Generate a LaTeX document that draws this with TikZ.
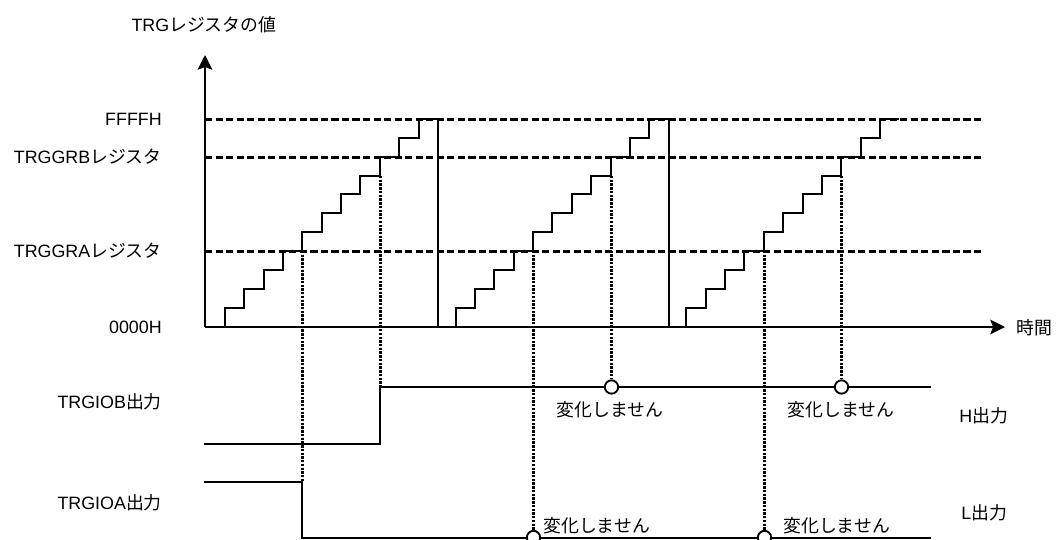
\documentclass[tikz,border=0pt]{standalone}
\usepackage{fontspec}
\setmainfont{Liberation Sans}
\newfontfamily\cjk{Noto Sans CJK JP}
\usetikzlibrary{arrows.meta}
\begin{document}
\begin{tikzpicture}[x=0.75pt,y=-0.75pt,
  solidline/.style={line width=1.5pt},
  dashline/.style={line width=2.25pt, dash pattern=on 5.4pt off 2.5pt},
  dotline/.style={line width=2.25pt, dash pattern=on 1.8pt off 1pt},
  lbl/.style={inner sep=0pt, font=\fontsize{13.4pt}{15pt}\selectfont},
  marker/.style={circle, draw, fill=white, line width=1.4pt, minimum size=10pt, inner sep=0pt},
  axisarrow/.style={line width=1.5pt, -{Stealth[length=11pt,width=11pt,inset=2pt]}},
]
\useasboundingbox (0,0) rectangle (1056,539);
\clip (0,0) rectangle (1056,539);

% levels
\def\yz{327}
\def\yA{251}
\def\yB{157}
\def\yF{119}

% labels
\node[lbl] (title) at (204,25) {TRG{\cjk レジスタの値}};
\node[lbl,anchor=east] (lF) at (162,\yF) {FFFFH};
\node[lbl,anchor=east] (lB) at (162,\yB) {TRGGRB{\cjk レジスタ}};
\node[lbl,anchor=east] (lA) at (162,\yA) {TRGGRA{\cjk レジスタ}};
\node[lbl,anchor=east] (lZ) at (162,\yz) {0000H};
\node[lbl,anchor=east] (lIOB) at (162,401.7) {TRGIOB{\cjk 出力}};
\node[lbl,anchor=east] (lIOA) at (162,502.7) {TRGIOA{\cjk 出力}};
\node[lbl,anchor=west] (ltime) at (1016,328) {\cjk 時間};
\node[lbl,anchor=west] (lH) at (959,416) {H{\cjk 出力}};
\node[lbl,anchor=west] (lL) at (961,513) {L{\cjk 出力}};

% dashed compare levels
\coordinate (dF0) at (205,119.5); \coordinate (dF1) at (983,119.5);
\coordinate (dB0) at (205,157.5); \coordinate (dB1) at (983,157.5);
\coordinate (dA0) at (205,251.5); \coordinate (dA1) at (983,251.5);
\draw[dashline] (dF0) -- (dF1);
\draw[dashline] (dB0) -- (dB1);
\draw[dashline] (dA0) -- (dA1);

% staircases
\foreach \n in {0,1,2} {
  \pgfmathsetmacro\off{\n*230.7}
  \draw[solidline, line join=miter] (206+\off,\yz)
    foreach \k in {1,...,11} { -| ({round(225+\off+\k*19.35-19.35)}, {round(326.7-\k*18.9)}) }
    -- ({round(437.85+\off)},\yF);
}
\coordinate (r0) at (438,\yF); \coordinate (r0b) at (438,\yz);
\coordinate (r1) at (669,\yF); \coordinate (r1b) at (669,\yz);
\draw[solidline] (r0) -- (r0b);
\draw[solidline] (r1) -- (r1b);

% axes
\coordinate (origin) at (205,\yz);
\coordinate (ytip) at (205,55);
\coordinate (xtip) at (1005,\yz);
\draw[axisarrow] (origin) -- (ytip);
\draw[axisarrow] (origin) -- (xtip);

% output signals
\coordinate (b0) at (204,444);
\coordinate (b1) at (380,387);
\coordinate (b2) at (931,387);
\coordinate (a0) at (204,482);
\coordinate (a1) at (302,537.5);
\coordinate (a2) at (931,537.5);
\draw[solidline] (b0) -| (b1) -- (b2);
\draw[solidline] (a0) -| (a1) -- (a2);

% dotted links, first period
\coordinate (sA0) at (302.5,\yA);
\coordinate (eA0) at (302.5,482);
\coordinate (sB0) at (380.5,176);
\coordinate (eB0) at (380.5,387);
\draw[dotline] (sA0) -- (eA0);
\draw[dotline] (sB0) -- (eB0);

% later periods with markers
\coordinate (sA1) at (533.5,\yA);
\coordinate (sB1) at (611.5,176);
\coordinate (sA2) at (764.5,\yA);
\coordinate (sB2) at (841.5,176);
\node[marker] (cA1) at (533.5,537.5) {};
\node[marker] (cB1) at (611.5,387) {};
\node[marker] (cA2) at (764.5,537.5) {};
\node[marker] (cB2) at (841.5,387) {};
\draw[dotline] (sA1) -- (cA1.north);
\draw[dotline] (sB1) -- (cB1.north);
\draw[dotline] (sA2) -- (cA2.north);
\draw[dotline] (sB2) -- (cB2.north);

% no-change labels
\node[lbl] (nB1) at (610,410) {\cjk 変化しません};
\node[lbl] (nB2) at (841,410) {\cjk 変化しません};
\node[lbl,anchor=west] (nA1) at (543,526) {\cjk 変化しません};
\node[lbl,anchor=west] (nA2) at (783,526) {\cjk 変化しません};
\end{tikzpicture}
\end{document}
